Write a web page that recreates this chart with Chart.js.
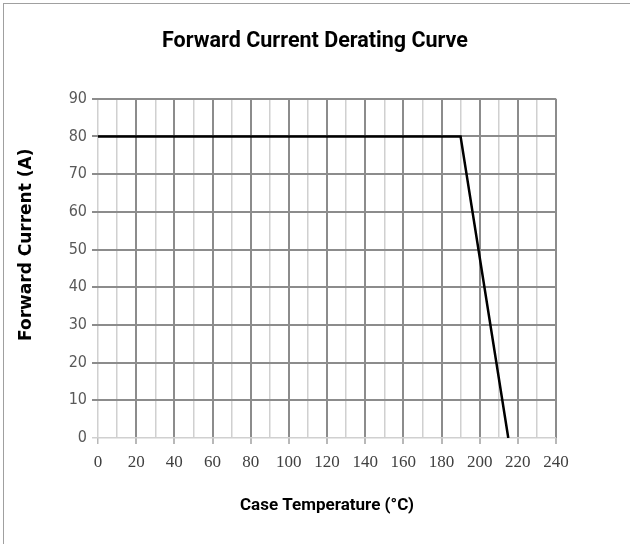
<!DOCTYPE html>
<html lang="en">
<head>
  <meta charset="UTF-8">
  <title>Forward Current Derating Curve</title>
  <style>
    body {
      margin: 0;
      background: #fff;
      overflow: hidden;
    }
    .frame {
      position: relative;
      width: 630px;
      height: 544px;
      overflow: hidden;
    }
    .edge {
      position: absolute;
      left: 3px;
      top: 3px;
      width: 700px;
      height: 700px;
      border: 1.5px solid #a0a0a0;
    }
    canvas {
      position: absolute;
      left: 0;
      top: 0;
    }
  </style>
</head>
<body>
  <div class="frame">
    <div class="edge"></div>
    <canvas id="derating" width="630" height="544"></canvas>
  </div>
  <script src="https://cdn.jsdelivr.net/npm/chart.js"></script>
  <script>
    // Curve
    const caseTemp = [0, 190, 215];
    const fwdCurrent = [80, 80, 0];

    // Axis ranges
    const xRange = [0, 240];
    const yRange = [0, 90];

    const condensed = 'Roboto, "DejaVu Sans Condensed", sans-serif';
    const darkGrid = '#8c8c8c';
    const lightGrid = '#d0d0d0';

    const points = caseTemp.map((t, i) => ({ x: t, y: fwdCurrent[i] }));

    new Chart(document.getElementById('derating'), {
      type: 'scatter',
      data: {
        datasets: [{
          data: points,
          showLine: true,
          borderColor: '#000',
          borderWidth: 2.5,
          pointRadius: 0,
          tension: 0
        }]
      },
      options: {
        responsive: false,
        animation: false,
        layout: { padding: 0 },
        plugins: {
          legend: { display: false },
          tooltip: { enabled: false },
          title: {
            display: true,
            text: 'Forward Current Derating Curve',
            color: '#000',
            font: { family: condensed, size: 21.5, weight: 'bold', lineHeight: 1.2 },
            padding: { top: 29, bottom: 44 }
          }
        },
        scales: {
          x: {
            type: 'linear',
            min: xRange[0],
            max: xRange[1],
            afterFit: s => { s.height = 106; },
            border: { display: false },
            grid: {
              color: c => (c.tick.value % 20 === 0 && c.tick.value !== 0) ? darkGrid : lightGrid,
              lineWidth: c => (c.tick.value % 20 === 0 && c.tick.value !== 0) ? 2 : 1.5,
              tickColor: c => c.tick.value % 20 === 0 ? '#b8b8b8' : 'rgba(0,0,0,0)',
              tickLength: 6
            },
            ticks: {
              stepSize: 10,
              autoSkip: false,
              maxRotation: 0,
              padding: 8,
              color: '#404040',
              font: { family: '"Liberation Serif", serif', size: 17 },
              callback: v => v % 20 === 0 ? v : ''
            },
            title: {
              display: true,
              text: 'Case Temperature (°C)',
              color: '#000',
              font: { family: condensed, size: 17, weight: 'bold', lineHeight: 1.2 },
              padding: { bottom: 28 }
            }
          },
          y: {
            min: yRange[0],
            max: yRange[1],
            afterFit: s => { s.width = 98; },
            border: { display: false },
            grid: {
              color: c => c.tick.value === 0 ? lightGrid : darkGrid,
              lineWidth: c => c.tick.value === 0 ? 1.5 : 2,
              tickColor: c => c.tick.value === 0 ? lightGrid : darkGrid,
              tickLength: 6
            },
            ticks: {
              stepSize: 10,
              padding: 5,
              color: '#595959',
              font: { family: '"DejaVu Sans Condensed", sans-serif', size: 16 }
            },
            title: {
              display: true,
              // leading spaces nudge the centred label up, as in the original
              text: '        Forward Current (A)',
              color: '#000',
              font: { family: '"DejaVu Sans", sans-serif', size: 17, weight: 'bold', lineHeight: 1.2 },
              padding: { top: 16 }
            }
          },
          // empty right-hand axis, only reserves the white margin
          gap: {
            position: 'right',
            afterFit: s => { s.width = 74; },
            border: { display: false },
            grid: { display: false },
            ticks: { display: false }
          }
        }
      }
    });
  </script>
</body>
</html>
